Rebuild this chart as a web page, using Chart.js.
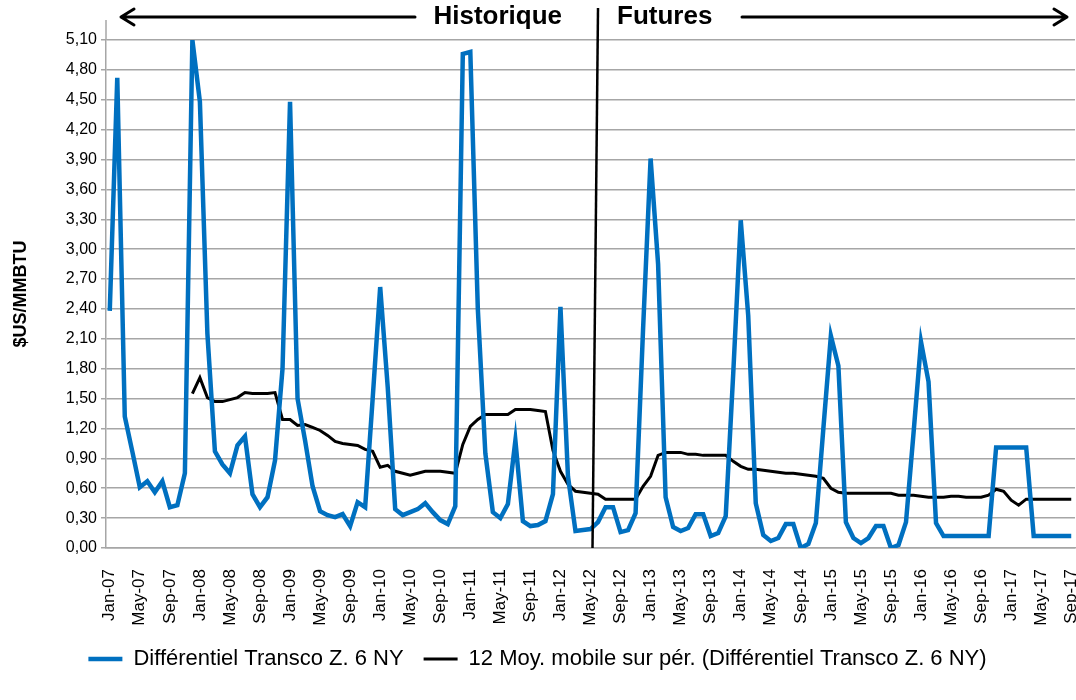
<!DOCTYPE html>
<html>
<head>
<meta charset="utf-8">
<script src="https://cdn.jsdelivr.net/npm/chart.js"></script>
<style>
  body { margin: 0; background: #fff; }
  #boite { width: 1076px; height: 700px; position: relative; }
</style>
</head>
<body>
<div id="boite"><canvas id="graphique"></canvas></div>
<script>
// categories : Jan-07 .. Sep-17
const mois = ['Jan','Feb','Mar','Apr','May','Jun','Jul','Aug','Sep','Oct','Nov','Dec'];
const annees = ['07','08','09','10','11','12','13','14','15','16','17'];
const categories = [];
annees.forEach(function(a){
    mois.forEach(function(m){
        if (categories.length < 129) categories.push(m + '-' + a);
    });
});

// Différentiel Transco Z. 6 NY ($US/MMBTU)
const differentiel = [
    2.38, 4.72, 1.32, 0.97, 0.61, 0.67, 0.56, 0.67, 0.41, 0.43, 0.75, 5.10,
    4.48, 2.15, 0.97, 0.84, 0.75, 1.03, 1.12, 0.54, 0.41, 0.51, 0.88, 1.80,
    4.48, 1.50, 1.08, 0.62, 0.37, 0.33, 0.31, 0.34, 0.22, 0.46, 0.41, 1.50,
    2.62, 1.62, 0.39, 0.33, 0.36, 0.39, 0.45, 0.36, 0.28, 0.24, 0.42, 4.96,
    4.98, 2.40, 0.95, 0.36, 0.30, 0.44, 1.08, 0.27, 0.22, 0.23, 0.27, 0.54,
    2.42, 0.72, 0.17, 0.18, 0.19, 0.26, 0.41, 0.41, 0.16, 0.18, 0.35, 2.20,
    3.91, 2.85, 0.51, 0.21, 0.17, 0.20, 0.34, 0.34, 0.12, 0.15, 0.32, 1.75,
    3.29, 2.33, 0.45, 0.13, 0.07, 0.10, 0.24, 0.24, 0.00, 0.04, 0.25, 1.20,
    2.13, 1.83, 0.26, 0.10, 0.05, 0.10, 0.22, 0.22, 0.00, 0.03, 0.26, 1.15,
    2.07, 1.67, 0.25, 0.12, 0.12, 0.12, 0.12, 0.12, 0.12, 0.12, 1.01, 1.01,
    1.01, 1.01, 1.01, 0.12, 0.12, 0.12, 0.12, 0.12, 0.12
];

// 12 Moy. mobile sur pér.
const moyenneMobile = [
    null, null, null, null, null, null, null, null, null, null, null, 1.55,
    1.71, 1.51, 1.47, 1.47, 1.49, 1.51, 1.56, 1.55, 1.55, 1.55, 1.56, 1.29,
    1.29, 1.23, 1.24, 1.21, 1.18, 1.13, 1.07, 1.05, 1.04, 1.03, 0.99, 0.97,
    0.81, 0.83, 0.77, 0.75, 0.73, 0.75, 0.77, 0.77, 0.77, 0.76, 0.75, 1.04,
    1.22, 1.29, 1.34, 1.34, 1.34, 1.34, 1.39, 1.39, 1.39, 1.38, 1.37, 0.98,
    0.77, 0.64, 0.57, 0.56, 0.55, 0.54, 0.49, 0.49, 0.49, 0.49, 0.49, 0.62,
    0.72, 0.93, 0.96, 0.96, 0.96, 0.94, 0.94, 0.93, 0.93, 0.93, 0.93, 0.87,
    0.82, 0.79, 0.79, 0.78, 0.77, 0.76, 0.75, 0.75, 0.74, 0.73, 0.72, 0.70,
    0.60, 0.56, 0.55, 0.55, 0.55, 0.55, 0.55, 0.55, 0.55, 0.53, 0.53, 0.53,
    0.52, 0.51, 0.51, 0.51, 0.52, 0.52, 0.51, 0.51, 0.51, 0.53, 0.59, 0.57,
    0.48, 0.43, 0.49, 0.49, 0.49, 0.49, 0.49, 0.49, 0.49
];

const ticksY = [0, 0.3, 0.6, 0.9, 1.2, 1.5, 1.8, 2.1, 2.4, 2.7, 3.0, 3.3, 3.6, 3.9, 4.2, 4.5, 4.8, 5.1];

const police = '"Liberation Sans", Arial, sans-serif';

// fleches Historique / Futures et ligne de separation
const separation = {
    id: 'separation',
    afterDraw(chart){
        const ctx = chart.ctx;
        const x = chart.scales.x;
        const y = chart.scales.y;
        const haut = x.getPixelForValue(65);
        const bas = x.getPixelForValue(64) + 2;
        const yFl = 17;

        ctx.save();
        // prolongement de l'axe vertical
        ctx.strokeStyle = '#a6a6a6';
        ctx.lineWidth = 1.5;
        ctx.beginPath();
        ctx.moveTo(x.left, 20);
        ctx.lineTo(x.left, y.top);
        ctx.stroke();

        ctx.strokeStyle = '#000';
        ctx.lineWidth = 2.5;
        ctx.beginPath();
        ctx.moveTo(haut, 8);
        ctx.lineTo(bas, y.getPixelForValue(0));
        ctx.stroke();

        ctx.font = 'bold 26px ' + police;
        ctx.fillStyle = '#000';
        ctx.textBaseline = 'middle';
        ctx.textAlign = 'right';
        ctx.fillText('Historique', haut - 36, yFl);
        ctx.textAlign = 'left';
        ctx.fillText('Futures', haut + 19, yFl);

        ctx.lineWidth = 3;
        ctx.lineCap = 'round';
        ctx.lineJoin = 'round';
        // fleche gauche
        const g1 = x.left + 15, g2 = haut - 183;
        ctx.beginPath();
        ctx.moveTo(g2, yFl); ctx.lineTo(g1, yFl);
        ctx.moveTo(g1 + 13, yFl - 8); ctx.lineTo(g1, yFl); ctx.lineTo(g1 + 13, yFl + 8);
        ctx.stroke();
        // fleche droite
        const d1 = haut + 144, d2 = x.right - 8;
        ctx.beginPath();
        ctx.moveTo(d1, yFl); ctx.lineTo(d2, yFl);
        ctx.moveTo(d2 - 13, yFl - 8); ctx.lineTo(d2, yFl); ctx.lineTo(d2 - 13, yFl + 8);
        ctx.stroke();
        ctx.restore();
    }
};

new Chart(document.getElementById('graphique'), {
    type: 'line',
    data: {
        labels: categories,
        datasets: [{
            label: 'Différentiel Transco Z. 6 NY',
            data: differentiel,
            borderColor: '#0070C0',
            backgroundColor: '#0070C0',
            borderWidth: 4.5,
            pointRadius: 0,
            pointStyle: 'line',
            tension: 0
        }, {
            label: '12 Moy. mobile sur pér. (Différentiel Transco Z. 6 NY)',
            data: moyenneMobile,
            borderColor: '#000000',
            backgroundColor: '#000000',
            borderWidth: 3,
            pointRadius: 0,
            pointStyle: 'line',
            tension: 0
        }]
    },
    options: {
        responsive: true,
        maintainAspectRatio: false,
        animation: false,
        layout: { padding: { top: 40, right: 1, left: 0, bottom: 20 } },
        plugins: {
            tooltip: { enabled: false },
            legend: {
                position: 'bottom',
                labels: {
                    usePointStyle: true,
                    pointStyleWidth: 34,
                    boxHeight: 4,
                    padding: 20,
                    color: '#000',
                    font: { family: police, size: 22 }
                }
            }
        },
        scales: {
            x: {
                offset: true,
                grid: { display: false },
                border: { display: true, color: '#a6a6a6', width: 1.5 },
                ticks: {
                    autoSkip: false,
                    minRotation: 90,
                    maxRotation: 90,
                    padding: 13,
                    color: '#000',
                    font: { family: police, size: 17 },
                    callback: function(v, i){ return i % 4 === 0 ? categories[i] : ''; }
                },
                afterFit: function(s){ s.height = 80; s.paddingLeft = 0; s.paddingRight = 0; }
            },
            y: {
                min: 0,
                max: 5.1,
                afterBuildTicks: function(s){ s.ticks = ticksY.map(function(v){ return { value: v }; }); },
                grid: { color: '#a6a6a6', lineWidth: 1.5, tickLength: 5 },
                border: { display: true, color: '#a6a6a6', width: 1.5 },
                ticks: {
                    color: '#000',
                    padding: 4,
                    font: { family: police, size: 16 },
                    callback: function(v){ return v.toFixed(2).replace('.', ','); }
                },
                title: {
                    display: true,
                    text: '$US/MMBTU',
                    color: '#000',
                    font: { family: police, size: 18, weight: 'bold' },
                    padding: { top: 10, bottom: 0 }
                },
                afterFit: function(s){ s.width = 106; }
            }
        }
    },
    plugins: [separation]
});
</script>
</body>
</html>
